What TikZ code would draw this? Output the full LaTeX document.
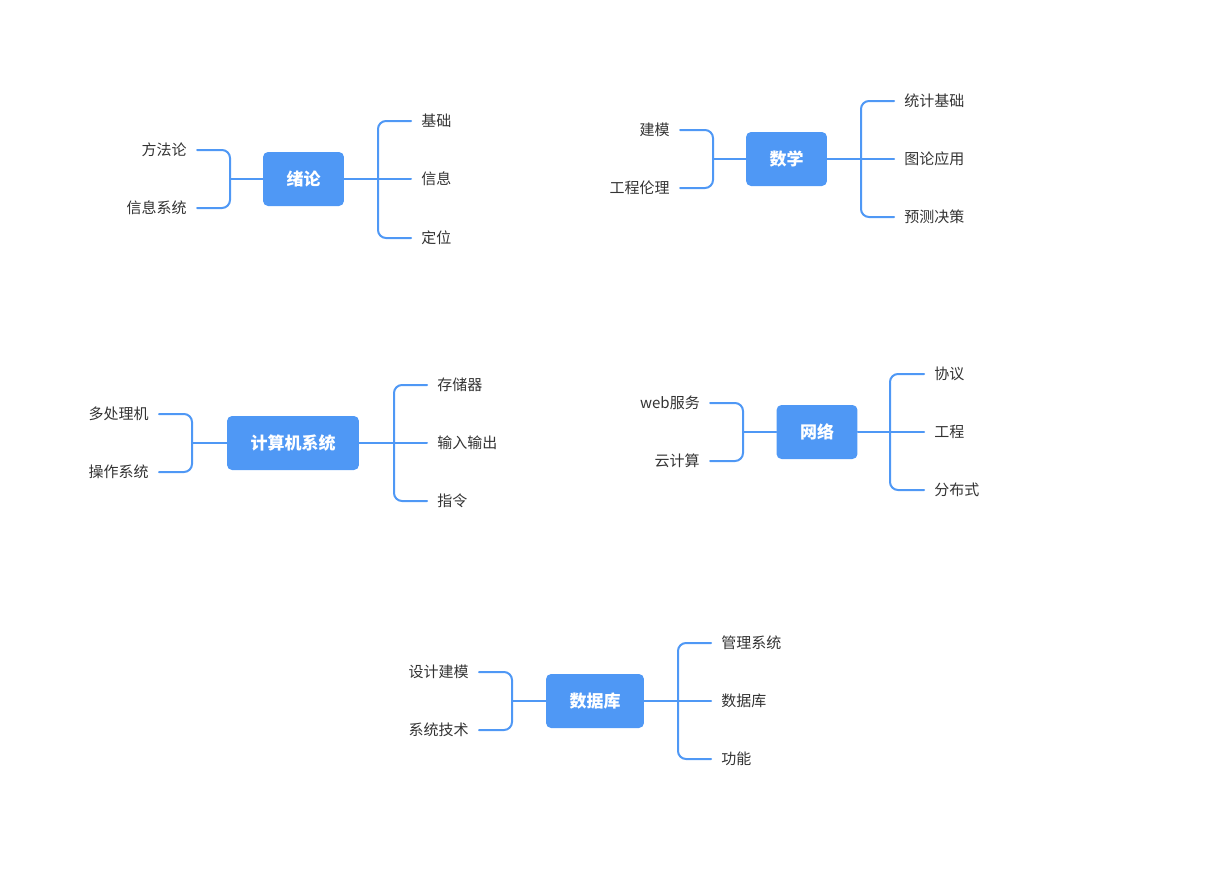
\documentclass[tikz,border=0pt]{standalone}
\usepackage{fontspec}
\setmainfont{Noto Sans CJK SC}
\usetikzlibrary{positioning}
\definecolor{zhblue}{RGB}{79,152,245}
\definecolor{zhtext}{RGB}{51,51,51}

\begin{document}
\begin{tikzpicture}[x=0.75pt,y=-0.75pt,line cap=round,line join=round,
  root/.style={rectangle,rounded corners=3.75pt,fill=zhblue,text=white,
    font=\fontsize{12.75}{15}\selectfont\bfseries,inner xsep=17.6pt,minimum height=40.5pt},
  leaf/.style={text=zhtext,font=\fontsize{11.25}{13}\selectfont,inner xsep=7.5pt,inner ysep=0pt},
  link/.style={draw=zhblue,line width=1.5pt},
  elbow/.style={link,rounded corners=6pt}]

\useasboundingbox (0,0) rectangle (1220,874);

% 绪论
\node[root] (xu) at (303.5,179) {绪论};
\node[leaf,anchor=east] (xu1) at (197,150) {方法论};
\node[leaf,anchor=east] (xu2) at (197,208) {信息系统};
\node[leaf,anchor=west] (xu3) at (411,121) {基础};
\node[leaf,anchor=west] (xu4) at (411,179) {信息};
\node[leaf,anchor=west] (xu5) at (411,238) {定位};
\coordinate (xuL) at (230,179);
\coordinate (xuR) at (378,179);
\draw[link] (xu.west) -- (xuL);
\draw[link] (xu.east) -- (xuR);
\draw[elbow] (xuL) |- (xu1.east);
\draw[elbow] (xuL) |- (xu2.east);
\draw[elbow] (xuR) |- (xu3.west);
\draw[link] (xuR) -- (xu4.west);
\draw[elbow] (xuR) |- (xu5.west);

% 数学
\node[root] (sx) at (786.5,159) {数学};
\node[leaf,anchor=east] (sx1) at (680,130) {建模};
\node[leaf,anchor=east] (sx2) at (680,188) {工程伦理};
\node[leaf,anchor=west] (sx3) at (894,101) {统计基础};
\node[leaf,anchor=west] (sx4) at (894,159) {图论应用};
\node[leaf,anchor=west] (sx5) at (894,217) {预测决策};
\coordinate (sxL) at (713,159);
\coordinate (sxR) at (861,159);
\draw[link] (sx.west) -- (sxL);
\draw[link] (sx.east) -- (sxR);
\draw[elbow] (sxL) |- (sx1.east);
\draw[elbow] (sxL) |- (sx2.east);
\draw[elbow] (sxR) |- (sx3.west);
\draw[link] (sxR) -- (sx4.west);
\draw[elbow] (sxR) |- (sx5.west);

% 计算机系统
\node[root] (js) at (293,443) {计算机系统};
\node[leaf,anchor=east] (js1) at (159,414) {多处理机};
\node[leaf,anchor=east] (js2) at (159,472) {操作系统};
\node[leaf,anchor=west] (js3) at (427,385) {存储器};
\node[leaf,anchor=west] (js4) at (427,443) {输入输出};
\node[leaf,anchor=west] (js5) at (427,501) {指令};
\coordinate (jsL) at (192,443);
\coordinate (jsR) at (394,443);
\draw[link] (js.west) -- (jsL);
\draw[link] (js.east) -- (jsR);
\draw[elbow] (jsL) |- (js1.east);
\draw[elbow] (jsL) |- (js2.east);
\draw[elbow] (jsR) |- (js3.west);
\draw[link] (jsR) -- (js4.west);
\draw[elbow] (jsR) |- (js5.west);

% 网络
\node[root] (wl) at (817,432) {网络};
\node[leaf,anchor=east] (wl1) at (710,403) {web服务};
\node[leaf,anchor=east] (wl2) at (710,461) {云计算};
\node[leaf,anchor=west] (wl3) at (924,374) {协议};
\node[leaf,anchor=west] (wl4) at (924,432) {工程};
\node[leaf,anchor=west] (wl5) at (924,490) {分布式};
\coordinate (wlL) at (743,432);
\coordinate (wlR) at (890,432);
\draw[link] (wl.west) -- (wlL);
\draw[link] (wl.east) -- (wlR);
\draw[elbow] (wlL) |- (wl1.east);
\draw[elbow] (wlL) |- (wl2.east);
\draw[elbow] (wlR) |- (wl3.west);
\draw[link] (wlR) -- (wl4.west);
\draw[elbow] (wlR) |- (wl5.west);

% 数据库
\node[root] (db) at (595,701) {数据库};
\node[leaf,anchor=east] (db1) at (479,672) {设计建模};
\node[leaf,anchor=east] (db2) at (479,730) {系统技术};
\node[leaf,anchor=west] (db3) at (711,643) {管理系统};
\node[leaf,anchor=west] (db4) at (711,701) {数据库};
\node[leaf,anchor=west] (db5) at (711,759) {功能};
\coordinate (dbL) at (512,701);
\coordinate (dbR) at (678,701);
\draw[link] (db.west) -- (dbL);
\draw[link] (db.east) -- (dbR);
\draw[elbow] (dbL) |- (db1.east);
\draw[elbow] (dbL) |- (db2.east);
\draw[elbow] (dbR) |- (db3.west);
\draw[link] (dbR) -- (db4.west);
\draw[elbow] (dbR) |- (db5.west);

\end{tikzpicture}
\end{document}
